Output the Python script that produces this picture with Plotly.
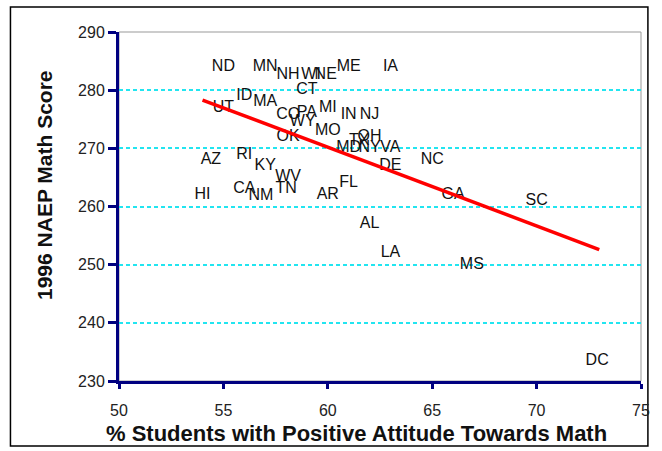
import plotly.graph_objects as go

states = ["ND", "MN", "NH", "WI", "NE", "ME", "IA", "CT", "ID", "MA", "UT", "CO", "PA", "MI",
          "IN", "NJ", "WY", "OK", "MO", "OH", "TX", "MD", "NY", "VA", "DE", "NC", "AZ", "RI",
          "KY", "WV", "HI", "CA", "NM", "TN", "AR", "FL", "AL", "LA", "MS", "GA", "SC", "DC"]
attitude = [55.0, 57.0, 58.1, 59.2, 59.9, 61.0, 63.0, 59.0, 56.0, 57.0, 55.0, 58.1, 59.0, 60.0,
            61.0, 62.0, 58.8, 58.1, 60.0, 62.0, 61.5, 61.0, 62.0, 63.0, 63.0, 65.0, 54.4, 56.0,
            57.0, 58.1, 54.0, 56.0, 56.8, 58.0, 60.0, 61.0, 62.0, 63.0, 66.9, 66.0, 70.0, 72.9]
score = [284, 284, 282.6, 282.6, 282.6, 284, 284, 280, 279, 278, 277, 275.7, 276, 277,
         275.7, 275.7, 274.5, 272, 273, 272, 271.3, 270, 270, 270, 267, 268, 268, 268.8,
         267, 265, 262, 263, 261.8, 263, 262, 264, 257, 252, 250, 262, 261, 233.4]

trend_x = [54.0, 73.0]
trend_y = [278.3, 252.6]

x_ticks = [50, 55, 60, 65, 70, 75]
y_ticks = [230, 240, 250, 260, 270, 280, 290]

x_title = "% Students with Positive Attitude Towards Math"
y_title = "1996 NAEP Math Score"

fig = go.Figure()
fig.add_trace(go.Scatter(
    x=attitude, y=score, mode="text", text=states,
    textposition="middle center",
    textfont=dict(family="Liberation Sans, Arial", size=16, color="#111111"),
    hoverinfo="skip", showlegend=False, cliponaxis=False))
fig.add_trace(go.Scatter(
    x=trend_x, y=trend_y, mode="lines",
    line=dict(color="#FF0000", width=3.5), showlegend=False))

L, R, T, B = 119, 14, 32, 70
W, H = 662, 451
pw, ph = W - L - R, H - T - B

fig.update_layout(
    width=W, height=H,
    margin=dict(l=L, r=R, t=T, b=B, pad=0),
    paper_bgcolor="white", plot_bgcolor="white",
    font=dict(family="Liberation Sans, Arial", size=13, color="#111111"),
    shapes=[
        dict(type="rect", xref="paper", yref="paper",
             x0=(9 - L) / pw, x1=(655 - L) / pw,
             y0=(H - B - 446) / ph, y1=(H - B - 7) / ph,
             line=dict(color="black", width=1.5), layer="below"),
        dict(type="rect", xref="paper", yref="paper", x0=0, x1=1, y0=0, y1=1,
             line=dict(color="#999999", width=1), layer="below"),
    ],
    annotations=[
        dict(text="<b>" + x_title + "</b>", xref="paper", yref="paper",
             x=(360 - L) / pw, y=(H - B - 433) / ph, xanchor="center", yanchor="middle",
             showarrow=False, font=dict(size=22, color="#111111")),
        dict(text="<b>" + y_title + "</b>", xref="paper", yref="paper",
             x=(43 - L) / pw, y=(H - B - 185) / ph, xanchor="center", yanchor="middle",
             textangle=-90, showarrow=False, font=dict(size=21, color="#111111")),
    ],
    xaxis=dict(
        range=[50, 75], tickvals=x_ticks, ticktext=[str(v) for v in x_ticks],
        showline=True, linecolor="#000080", linewidth=3,
        ticks="outside", tickcolor="#000080", tickwidth=3, ticklen=5,
        ticklabelstandoff=8,
        showgrid=False, zeroline=False,
        tickfont=dict(size=16, color="#222222"),
    ),
    yaxis=dict(
        range=[230, 290], tickvals=y_ticks, ticktext=[str(v) for v in y_ticks],
        showline=True, linecolor="#000080", linewidth=3,
        ticks="outside", tickcolor="#000080", tickwidth=3, ticklen=8,
        showgrid=True, gridcolor="#22E5F0", gridwidth=1.5, griddash="4px,3px",
        zeroline=False,
        tickfont=dict(size=16, color="#222222"),
    ),
)

fig.write_html("out.html", config={"displayModeBar": False},
               post_script="document.body.style.margin='0';")
